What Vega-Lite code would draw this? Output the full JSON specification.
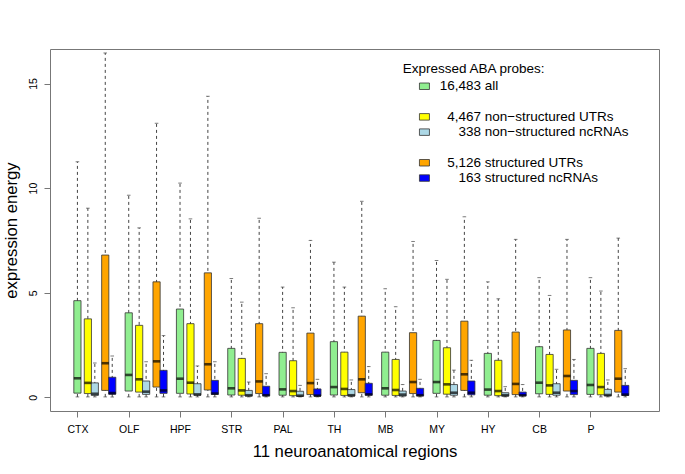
{
  "$schema": "https://vega.github.io/schema/vega-lite/v6.json",
  "autosize": {"type": "none"},
  "padding": {"left": 50, "top": 49, "right": 26, "bottom": 63},
  "width": 609,
  "height": 362,
  "background": "white",
  "config": {
    "view": {"stroke": "#777", "strokeWidth": 1},
    "font": "Liberation Sans",
    "axis": {"labelFont": "Liberation Sans", "titleFont": "Liberation Sans", "labelColor": "#000", "titleColor": "#000", "tickColor": "#777", "domain": false, "grid": false, "titleFontWeight": "normal"},
    "legend": {"labelFont": "Liberation Sans", "titleFont": "Liberation Sans"}
  },
  "datasets": {
    "boxes": [
      {"r": "CTX", "g": "all", "lo": 0.02, "q1": 0.2, "med": 0.91, "q3": 4.62, "hi": 11.26},
      {"r": "CTX", "g": "nsUTR", "lo": 0.02, "q1": 0.18, "med": 0.69, "q3": 3.75, "hi": 9.04},
      {"r": "CTX", "g": "nsnc", "lo": 0.02, "q1": 0.09, "med": 0.17, "q3": 0.69, "hi": 1.64},
      {"r": "CTX", "g": "sUTR", "lo": 0.02, "q1": 0.33, "med": 1.63, "q3": 6.8, "hi": 16.46},
      {"r": "CTX", "g": "snc", "lo": 0.02, "q1": 0.15, "med": 0.2, "q3": 0.96, "hi": 1.97},
      {"r": "OLF", "g": "all", "lo": 0.02, "q1": 0.3, "med": 1.07, "q3": 4.04, "hi": 9.66},
      {"r": "OLF", "g": "nsUTR", "lo": 0.02, "q1": 0.25, "med": 0.86, "q3": 3.44, "hi": 8.1},
      {"r": "OLF", "g": "nsnc", "lo": 0.02, "q1": 0.14, "med": 0.27, "q3": 0.78, "hi": 1.7},
      {"r": "OLF", "g": "sUTR", "lo": 0.02, "q1": 0.49, "med": 1.72, "q3": 5.52, "hi": 13.1},
      {"r": "OLF", "g": "snc", "lo": 0.02, "q1": 0.19, "med": 0.33, "q3": 1.29, "hi": 2.95},
      {"r": "HPF", "g": "all", "lo": 0.02, "q1": 0.19, "med": 0.89, "q3": 4.22, "hi": 10.24},
      {"r": "HPF", "g": "nsUTR", "lo": 0.02, "q1": 0.16, "med": 0.7, "q3": 3.52, "hi": 8.53},
      {"r": "HPF", "g": "nsnc", "lo": 0.02, "q1": 0.1, "med": 0.14, "q3": 0.65, "hi": 1.5},
      {"r": "HPF", "g": "sUTR", "lo": 0.02, "q1": 0.35, "med": 1.58, "q3": 5.95, "hi": 14.39},
      {"r": "HPF", "g": "snc", "lo": 0.02, "q1": 0.14, "med": 0.18, "q3": 0.81, "hi": 1.7},
      {"r": "STR", "g": "all", "lo": 0.02, "q1": 0.11, "med": 0.43, "q3": 2.34, "hi": 5.68},
      {"r": "STR", "g": "nsUTR", "lo": 0.02, "q1": 0.1, "med": 0.33, "q3": 1.86, "hi": 4.55},
      {"r": "STR", "g": "nsnc", "lo": 0.02, "q1": 0.06, "med": 0.1, "q3": 0.33, "hi": 0.73},
      {"r": "STR", "g": "sUTR", "lo": 0.02, "q1": 0.18, "med": 0.76, "q3": 3.52, "hi": 8.56},
      {"r": "STR", "g": "snc", "lo": 0.02, "q1": 0.07, "med": 0.1, "q3": 0.53, "hi": 1.13},
      {"r": "PAL", "g": "all", "lo": 0.02, "q1": 0.1, "med": 0.38, "q3": 2.15, "hi": 5.27},
      {"r": "PAL", "g": "nsUTR", "lo": 0.02, "q1": 0.08, "med": 0.3, "q3": 1.75, "hi": 4.28},
      {"r": "PAL", "g": "nsnc", "lo": 0.02, "q1": 0.05, "med": 0.08, "q3": 0.29, "hi": 0.57},
      {"r": "PAL", "g": "sUTR", "lo": 0.02, "q1": 0.13, "med": 0.68, "q3": 3.07, "hi": 7.5},
      {"r": "PAL", "g": "snc", "lo": 0.02, "q1": 0.06, "med": 0.08, "q3": 0.4, "hi": 0.86},
      {"r": "TH", "g": "all", "lo": 0.02, "q1": 0.11, "med": 0.49, "q3": 2.66, "hi": 6.46},
      {"r": "TH", "g": "nsUTR", "lo": 0.02, "q1": 0.09, "med": 0.4, "q3": 2.16, "hi": 5.27},
      {"r": "TH", "g": "nsnc", "lo": 0.02, "q1": 0.06, "med": 0.1, "q3": 0.37, "hi": 0.83},
      {"r": "TH", "g": "sUTR", "lo": 0.02, "q1": 0.22, "med": 0.86, "q3": 3.88, "hi": 9.37},
      {"r": "TH", "g": "snc", "lo": 0.02, "q1": 0.1, "med": 0.14, "q3": 0.67, "hi": 1.47},
      {"r": "MB", "g": "all", "lo": 0.02, "q1": 0.1, "med": 0.43, "q3": 2.16, "hi": 5.19},
      {"r": "MB", "g": "nsUTR", "lo": 0.02, "q1": 0.09, "med": 0.35, "q3": 1.81, "hi": 4.33},
      {"r": "MB", "g": "nsnc", "lo": 0.02, "q1": 0.06, "med": 0.13, "q3": 0.3, "hi": 0.61},
      {"r": "MB", "g": "sUTR", "lo": 0.02, "q1": 0.18, "med": 0.73, "q3": 3.09, "hi": 7.45},
      {"r": "MB", "g": "snc", "lo": 0.02, "q1": 0.07, "med": 0.1, "q3": 0.43, "hi": 0.86},
      {"r": "MY", "g": "all", "lo": 0.02, "q1": 0.19, "med": 0.73, "q3": 2.72, "hi": 6.54},
      {"r": "MY", "g": "nsUTR", "lo": 0.02, "q1": 0.15, "med": 0.62, "q3": 2.37, "hi": 5.64},
      {"r": "MY", "g": "nsnc", "lo": 0.02, "q1": 0.1, "med": 0.22, "q3": 0.61, "hi": 1.3},
      {"r": "MY", "g": "sUTR", "lo": 0.02, "q1": 0.33, "med": 1.1, "q3": 3.64, "hi": 8.63},
      {"r": "MY", "g": "snc", "lo": 0.02, "q1": 0.12, "med": 0.22, "q3": 0.78, "hi": 1.77},
      {"r": "HY", "g": "all", "lo": 0.02, "q1": 0.1, "med": 0.37, "q3": 2.1, "hi": 5.52},
      {"r": "HY", "g": "nsUTR", "lo": 0.02, "q1": 0.08, "med": 0.3, "q3": 1.77, "hi": 4.71},
      {"r": "HY", "g": "nsnc", "lo": 0.02, "q1": 0.06, "med": 0.1, "q3": 0.22, "hi": 0.51},
      {"r": "HY", "g": "sUTR", "lo": 0.02, "q1": 0.13, "med": 0.64, "q3": 3.12, "hi": 7.55},
      {"r": "HY", "g": "snc", "lo": 0.02, "q1": 0.07, "med": 0.1, "q3": 0.25, "hi": 0.61},
      {"r": "CB", "g": "all", "lo": 0.02, "q1": 0.17, "med": 0.7, "q3": 2.42, "hi": 5.72},
      {"r": "CB", "g": "nsUTR", "lo": 0.02, "q1": 0.14, "med": 0.57, "q3": 2.05, "hi": 4.87},
      {"r": "CB", "g": "nsnc", "lo": 0.02, "q1": 0.1, "med": 0.22, "q3": 0.65, "hi": 1.34},
      {"r": "CB", "g": "sUTR", "lo": 0.02, "q1": 0.3, "med": 1.02, "q3": 3.22, "hi": 7.55},
      {"r": "CB", "g": "snc", "lo": 0.02, "q1": 0.13, "med": 0.3, "q3": 0.81, "hi": 1.81},
      {"r": "P", "g": "all", "lo": 0.02, "q1": 0.14, "med": 0.59, "q3": 2.34, "hi": 5.72},
      {"r": "P", "g": "nsUTR", "lo": 0.02, "q1": 0.12, "med": 0.49, "q3": 2.1, "hi": 5.08},
      {"r": "P", "g": "nsnc", "lo": 0.02, "q1": 0.07, "med": 0.11, "q3": 0.38, "hi": 0.83},
      {"r": "P", "g": "sUTR", "lo": 0.02, "q1": 0.25, "med": 0.89, "q3": 3.2, "hi": 7.61},
      {"r": "P", "g": "snc", "lo": 0.02, "q1": 0.09, "med": 0.13, "q3": 0.57, "hi": 1.37}
    ]
  },
  "data": {"name": "boxes"},
  "encoding": {
    "x": {
      "field": "r", "type": "nominal", "sort": null,
      "scale": {"domain": ["CTX", "OLF", "HPF", "STR", "PAL", "TH", "MB", "MY", "HY", "CB", "P"], "paddingInner": 0.2538, "paddingOuter": 0.5624, "align": 0.445},
      "axis": {"title": "11 neuroanatomical regions", "tickOffset": -17.4, "labelAngle": 0, "labelFontSize": 10.5, "tickSize": 6, "labelPadding": 7, "titleFontSize": 16.7, "titlePadding": 9}
    },
    "xOffset": {
      "field": "g", "type": "nominal",
      "scale": {"domain": ["all", "a1", "a2", "nsUTR", "a3", "nsnc", "a4", "a5", "sUTR", "a6", "snc"], "paddingInner": 0, "paddingOuter": 0}
    }
  },
  "layer": [
    {
      "mark": {"type": "rule", "color": "#444", "strokeWidth": 1, "strokeDash": [3, 3]},
      "encoding": {
        "y": {"field": "lo", "type": "quantitative", "scale": {"domain": [-0.654, 16.65], "nice": false, "zero": false},
          "axis": {"title": "expression energy", "values": [0, 5, 10, 15], "labelAngle": -90, "labelAlign": "center", "labelBaseline": "bottom", "labelFontSize": 10.5, "tickSize": 6, "labelPadding": 6, "titleFontSize": 16.7, "titlePadding": 8}},
        "y2": {"field": "hi"}
      }
    },
    {
      "mark": {"type": "tick", "color": "#444", "thickness": 1, "size": 3.6},
      "encoding": {"y": {"field": "hi", "type": "quantitative"}}
    },
    {
      "mark": {"type": "tick", "color": "#444", "thickness": 1, "size": 3.6},
      "encoding": {"y": {"field": "lo", "type": "quantitative"}}
    },
    {
      "mark": {"type": "bar", "width": 7.2, "stroke": "#333", "strokeWidth": 0.8},
      "encoding": {
        "y": {"field": "q1", "type": "quantitative"},
        "y2": {"field": "q3"},
        "color": {
          "field": "g", "type": "nominal",
          "scale": {"domain": ["all", "gap1", "nsUTR", "nsnc", "gap2", "sUTR", "snc"], "range": ["#90EE90", "transparent", "#FFFF00", "#ADD8E6", "transparent", "#FFA500", "#0000FF"]},
          "legend": {
            "orient": "none", "legendX": 352.7, "legendY": 13,
            "title": "Expressed ABA probes:", "titleFontSize": 13.5, "titleFontWeight": "normal", "titleColor": "#000", "titlePadding": 4,
            "labelFontSize": 13.5, "labelColor": "#000", "labelOffset": 8.5, "labelLimit": 400,
            "symbolType": "M-1,-0.65H1V0.65H-1Z", "symbolSize": 100, "symbolStrokeColor": "#333", "symbolStrokeWidth": 0.8, "symbolOffset": 15,
            "rowPadding": 0.3,
            "labelExpr": "datum.value == 'all' ? '16,483 all' : datum.value == 'nsUTR' ? '\u200b\u00a0\u00a04,467 non\u2212structured UTRs' : datum.value == 'nsnc' ? '\u200b\u00a0\u00a0\u00a0\u00a0\u00a0338 non\u2212structured ncRNAs' : datum.value == 'sUTR' ? '\u200b\u00a0\u00a05,126 structured UTRs' : datum.value == 'snc' ? '\u200b\u00a0\u00a0\u00a0\u00a0\u00a0163 structured ncRNAs' : '\u200b'",
            "encode": {"symbols": {"update": {"opacity": {"signal": "datum.value == 'gap1' || datum.value == 'gap2' ? 0 : 1"}}}}
          }
        }
      }
    },
    {
      "mark": {"type": "tick", "color": "#000", "thickness": 2.6, "size": 7.2},
      "encoding": {"y": {"field": "med", "type": "quantitative"}}
    }
  ]
}
